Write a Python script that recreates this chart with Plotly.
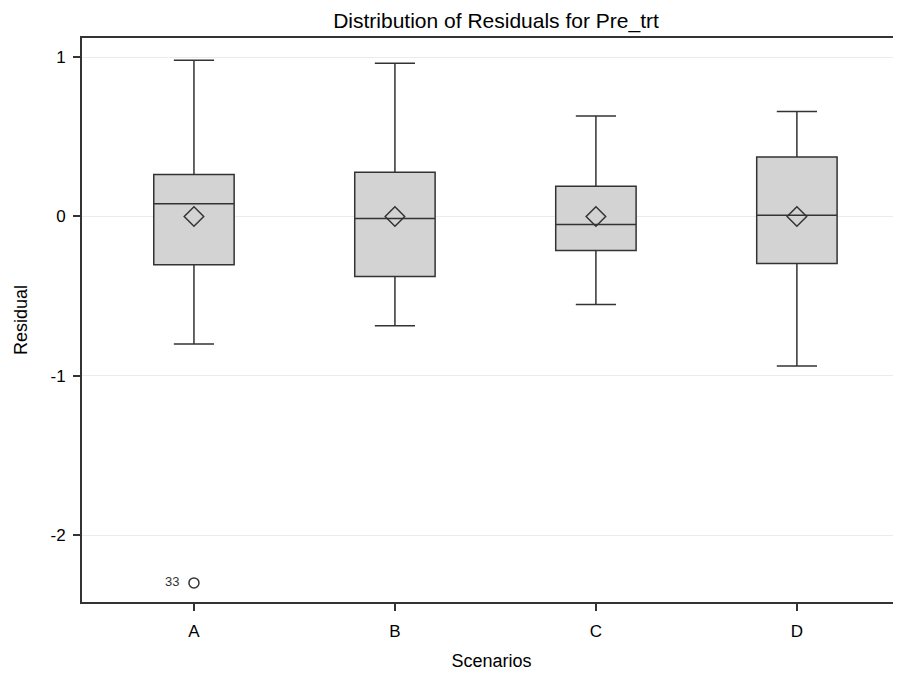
import plotly.graph_objects as go

categories = ["A", "B", "C", "D"]
upper_whisker = [0.98, 0.962, 0.631, 0.658]
q3_values = [0.264, 0.277, 0.189, 0.373]
medians = [0.08, -0.013, -0.05, 0.008]
q1_values = [-0.304, -0.377, -0.214, -0.296]
lower_whisker = [-0.80, -0.686, -0.553, -0.939]
means = [0.0, 0.0, 0.0, 0.0]
outlier_cat = ["A"]
outlier_vals = [-2.30]
outlier_ids = ["33"]
y_ticks = [1, 0, -1, -2]

line_col = "#333333"
fig = go.Figure()
fig.add_trace(go.Box(
    x=categories, q1=q1_values, median=medians, q3=q3_values,
    lowerfence=lower_whisker, upperfence=upper_whisker,
    fillcolor="#d3d3d3", line=dict(color=line_col, width=1.5),
    width=0.4, whiskerwidth=0.5, boxpoints=False, showlegend=False,
))
fig.add_trace(go.Scatter(
    x=categories, y=means, mode="markers",
    marker=dict(symbol="diamond-open", size=15, color=line_col, line=dict(width=1.5)),
    showlegend=False,
))
fig.add_trace(go.Scatter(
    x=outlier_cat, y=outlier_vals, mode="markers+text",
    text=[t + "  " for t in outlier_ids], textposition="middle left",
    textfont=dict(size=13, color="#333333", family="Liberation Sans, Arial"),
    marker=dict(symbol="circle-open", size=10, color=line_col, line=dict(width=1.5)),
    showlegend=False,
))

fig.update_layout(
    width=893, height=667,
    margin=dict(l=74, r=0, t=30, b=73),
    paper_bgcolor="white", plot_bgcolor="white",
    font=dict(family="Liberation Sans, Arial", color="#000000", size=17),
    title=dict(text="Distribution of Residuals for Pre_trt", x=488 / 893, xanchor="center",
               y=1 - 13 / 667, yanchor="middle", font=dict(size=21)),
    xaxis=dict(
        type="category", range=[-0.557, 3.518],
        showline=True, linecolor=line_col, linewidth=2, mirror=True,
        ticks="outside", ticklen=7, tickcolor=line_col, tickwidth=1.5,
        ticklabelstandoff=6,
        showgrid=False, zeroline=False,
        title=dict(text="Scenarios", font=dict(size=18), standoff=14),
        tickfont=dict(size=17),
    ),
    yaxis=dict(
        range=[-2.42, 1.12], tickvals=y_ticks, ticktext=[str(v) for v in y_ticks],
        showline=True, linecolor=line_col, linewidth=2,
        ticks="outside", ticklen=7, tickcolor=line_col, tickwidth=1.5,
        ticklabelstandoff=4,
        showgrid=True, gridcolor="#ebebeb", gridwidth=1, zeroline=False,
        title=dict(text="Residual", font=dict(size=18), standoff=18),
        tickfont=dict(size=17),
    ),
)

fig.write_html("out.html")
